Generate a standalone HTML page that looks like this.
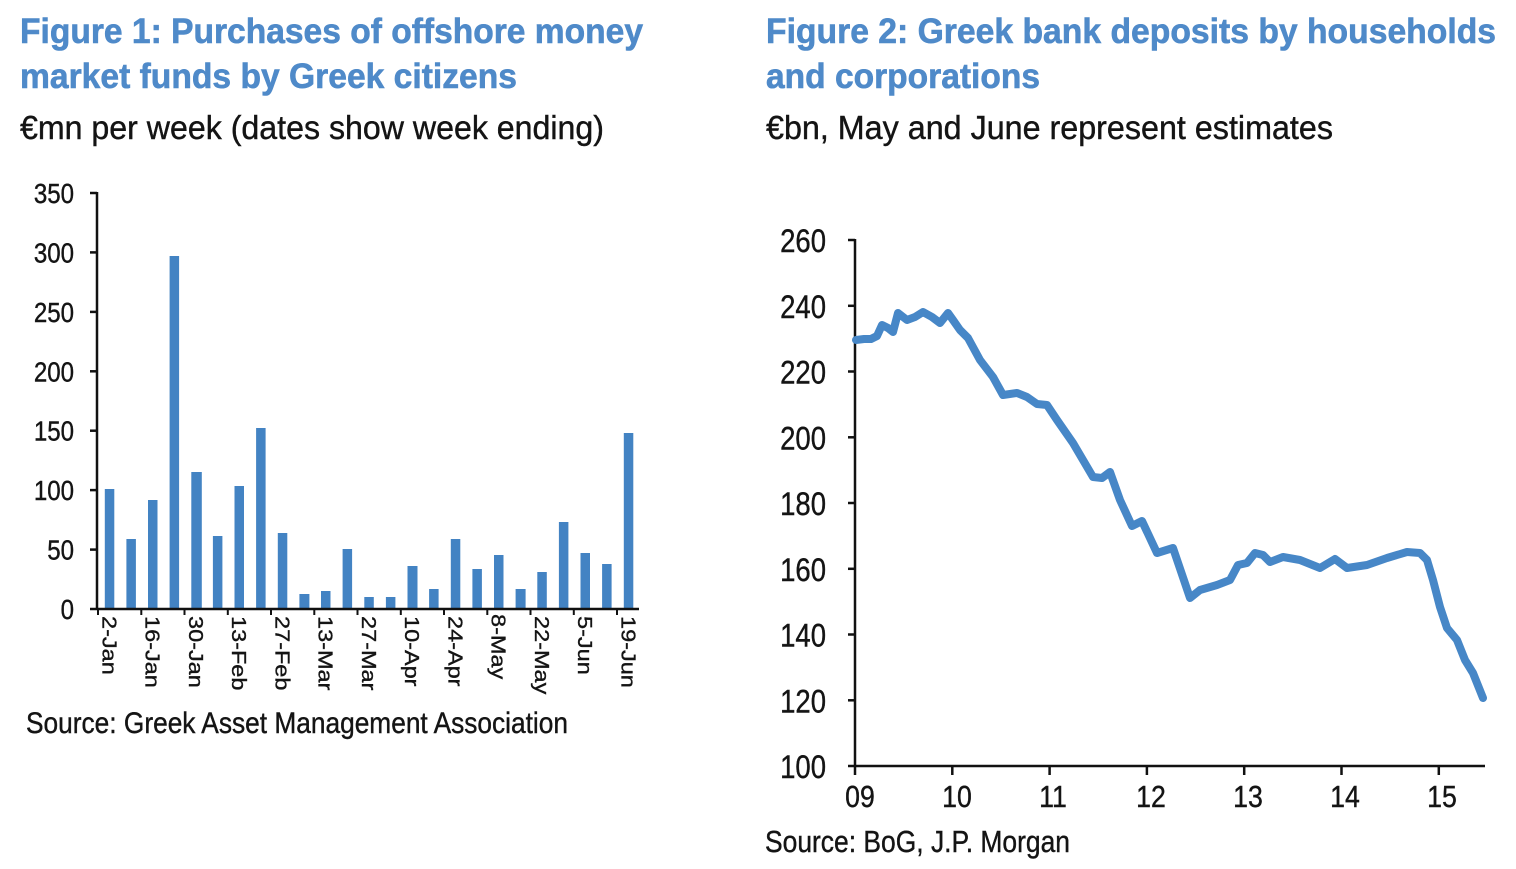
<!DOCTYPE html>
<html>
<head>
<meta charset="utf-8">
<style>
  html, body { margin: 0; padding: 0; background: #ffffff; }
  svg { display: block; }
  text { font-family: "Liberation Sans", Arial, sans-serif; }
</style>
</head>
<body>
<svg width="1516" height="869" viewBox="0 0 1516 869" xmlns="http://www.w3.org/2000/svg">
  <rect width="1516" height="869" fill="#ffffff"/>

  <!-- ===== Titles ===== -->
  <g fill="#4f8ac9" stroke="#4f8ac9" stroke-width="0.6" font-weight="bold" font-size="35">
    <text x="20" y="43" textLength="623" lengthAdjust="spacingAndGlyphs">Figure 1: Purchases of offshore money</text>
    <text x="20" y="88" textLength="497" lengthAdjust="spacingAndGlyphs">market funds by Greek citizens</text>
    <text x="766" y="43" textLength="730" lengthAdjust="spacingAndGlyphs">Figure 2: Greek bank deposits by households</text>
    <text x="766" y="88" textLength="274" lengthAdjust="spacingAndGlyphs">and corporations</text>
  </g>
  <g fill="#141414" stroke="#141414" stroke-width="0.4" font-size="33">
    <text x="20" y="139" textLength="584" lengthAdjust="spacingAndGlyphs">€mn per week (dates show week ending)</text>
    <text x="766" y="139" textLength="567" lengthAdjust="spacingAndGlyphs">€bn, May and June represent estimates</text>
  </g>

  <!-- ===== Left chart: bars ===== -->
  <g fill="#4383c3">
    <rect x="104.8" y="489" width="9.5" height="120"/>
    <rect x="126.4" y="539" width="9.5" height="70"/>
    <rect x="148.0" y="500" width="9.5" height="109"/>
    <rect x="169.6" y="256" width="9.5" height="353"/>
    <rect x="191.3" y="472" width="10.5" height="137"/>
    <rect x="212.9" y="536" width="9.5" height="73"/>
    <rect x="234.5" y="486" width="9.5" height="123"/>
    <rect x="256.1" y="428" width="9.5" height="181"/>
    <rect x="277.8" y="533" width="9.5" height="76"/>
    <rect x="299.4" y="594" width="10" height="15"/>
    <rect x="321.0" y="591" width="9.5" height="18"/>
    <rect x="342.6" y="549" width="9.5" height="60"/>
    <rect x="364.3" y="597" width="9.5" height="12"/>
    <rect x="385.9" y="597" width="9.5" height="12"/>
    <rect x="407.5" y="566" width="10" height="43"/>
    <rect x="429.1" y="589" width="9.5" height="20"/>
    <rect x="450.8" y="539" width="9.5" height="70"/>
    <rect x="472.4" y="569" width="9.5" height="40"/>
    <rect x="494.0" y="555" width="9.5" height="54"/>
    <rect x="515.6" y="589" width="10" height="20"/>
    <rect x="537.3" y="572" width="9.5" height="37"/>
    <rect x="558.9" y="522" width="9.5" height="87"/>
    <rect x="580.5" y="553" width="9.5" height="56"/>
    <rect x="602.1" y="564" width="9.5" height="45"/>
    <rect x="623.8" y="433" width="9.5" height="176"/>
  </g>

  <!-- Left axes -->
  <g stroke="#111" stroke-width="2.5" fill="none">
    <line x1="97" y1="192" x2="97" y2="610"/>
    <line x1="90" y1="609" x2="639" y2="609"/>
    <line x1="90" y1="193" x2="97" y2="193"/>
    <line x1="90" y1="252.4" x2="97" y2="252.4"/>
    <line x1="90" y1="311.9" x2="97" y2="311.9"/>
    <line x1="90" y1="371.3" x2="97" y2="371.3"/>
    <line x1="90" y1="430.7" x2="97" y2="430.7"/>
    <line x1="90" y1="490.1" x2="97" y2="490.1"/>
    <line x1="90" y1="549.6" x2="97" y2="549.6"/>
  </g>
  <g stroke="#111" stroke-width="2" fill="none">
    <line x1="98" y1="609" x2="98" y2="615"/>
    <line x1="141.3" y1="609" x2="141.3" y2="615"/>
    <line x1="184.5" y1="609" x2="184.5" y2="615"/>
    <line x1="227.8" y1="609" x2="227.8" y2="615"/>
    <line x1="271" y1="609" x2="271" y2="615"/>
    <line x1="314.3" y1="609" x2="314.3" y2="615"/>
    <line x1="357.5" y1="609" x2="357.5" y2="615"/>
    <line x1="400.8" y1="609" x2="400.8" y2="615"/>
    <line x1="444" y1="609" x2="444" y2="615"/>
    <line x1="487.3" y1="609" x2="487.3" y2="615"/>
    <line x1="530.5" y1="609" x2="530.5" y2="615"/>
    <line x1="573.8" y1="609" x2="573.8" y2="615"/>
    <line x1="617" y1="609" x2="617" y2="615"/>
  </g>

  <!-- Left y tick labels -->
  <g fill="#141414" stroke="#141414" stroke-width="0.4" font-size="28" text-anchor="end">
    <text transform="translate(74,203) scale(0.86,1)">350</text>
    <text transform="translate(74,262.4) scale(0.86,1)">300</text>
    <text transform="translate(74,321.9) scale(0.86,1)">250</text>
    <text transform="translate(74,381.3) scale(0.86,1)">200</text>
    <text transform="translate(74,440.7) scale(0.86,1)">150</text>
    <text transform="translate(74,500.1) scale(0.86,1)">100</text>
    <text transform="translate(74,559.6) scale(0.86,1)">50</text>
    <text transform="translate(74,619) scale(0.86,1)">0</text>
  </g>

  <!-- Left x labels (rotated) -->
  <g fill="#141414" stroke="#141414" stroke-width="0.4" font-size="23.5">
    <text transform="translate(102.3,616) rotate(90) scale(1,0.88)">2-Jan</text>
    <text transform="translate(145.6,616) rotate(90) scale(1,0.88)">16-Jan</text>
    <text transform="translate(188.8,616) rotate(90) scale(1,0.88)">30-Jan</text>
    <text transform="translate(232.1,616) rotate(90) scale(1,0.88)">13-Feb</text>
    <text transform="translate(275.3,616) rotate(90) scale(1,0.88)">27-Feb</text>
    <text transform="translate(318.6,616) rotate(90) scale(1,0.88)">13-Mar</text>
    <text transform="translate(361.8,616) rotate(90) scale(1,0.88)">27-Mar</text>
    <text transform="translate(405.1,616) rotate(90) scale(1,0.88)">10-Apr</text>
    <text transform="translate(448.3,616) rotate(90) scale(1,0.88)">24-Apr</text>
    <text transform="translate(491.6,614) rotate(90) scale(1,0.88)">8-May</text>
    <text transform="translate(534.8,616) rotate(90) scale(1,0.88)">22-May</text>
    <text transform="translate(578.1,616) rotate(90) scale(1,0.88)">5-Jun</text>
    <text transform="translate(621.3,616) rotate(90) scale(1,0.88)">19-Jun</text>
  </g>

  <!-- Left source -->
  <text x="26" y="733" font-size="30" fill="#141414" stroke="#141414" stroke-width="0.4" textLength="542" lengthAdjust="spacingAndGlyphs">Source: Greek Asset Management Association</text>

  <!-- ===== Right chart ===== -->
  <g stroke="#111" stroke-width="2.5" fill="none">
    <line x1="855" y1="239" x2="855" y2="767"/>
    <line x1="848" y1="766" x2="1485" y2="766"/>
    <line x1="848" y1="240" x2="855" y2="240"/>
    <line x1="848" y1="305.8" x2="855" y2="305.8"/>
    <line x1="848" y1="371.5" x2="855" y2="371.5"/>
    <line x1="848" y1="437.3" x2="855" y2="437.3"/>
    <line x1="848" y1="503" x2="855" y2="503"/>
    <line x1="848" y1="568.8" x2="855" y2="568.8"/>
    <line x1="848" y1="634.5" x2="855" y2="634.5"/>
    <line x1="848" y1="700.3" x2="855" y2="700.3"/>
    <line x1="855" y1="766" x2="855" y2="775"/>
    <line x1="952.3" y1="766" x2="952.3" y2="775"/>
    <line x1="1049.6" y1="766" x2="1049.6" y2="775"/>
    <line x1="1146.9" y1="766" x2="1146.9" y2="775"/>
    <line x1="1244.2" y1="766" x2="1244.2" y2="775"/>
    <line x1="1341.5" y1="766" x2="1341.5" y2="775"/>
    <line x1="1438.8" y1="766" x2="1438.8" y2="775"/>
  </g>

  <g fill="#141414" stroke="#141414" stroke-width="0.4" font-size="32" text-anchor="end">
    <text transform="translate(826,252) scale(0.86,1)">260</text>
    <text transform="translate(826,317.8) scale(0.86,1)">240</text>
    <text transform="translate(826,383.5) scale(0.86,1)">220</text>
    <text transform="translate(826,449.3) scale(0.86,1)">200</text>
    <text transform="translate(826,515) scale(0.86,1)">180</text>
    <text transform="translate(826,580.8) scale(0.86,1)">160</text>
    <text transform="translate(826,646.5) scale(0.86,1)">140</text>
    <text transform="translate(826,712.3) scale(0.86,1)">120</text>
    <text transform="translate(826,778) scale(0.86,1)">100</text>
  </g>

  <g fill="#141414" stroke="#141414" stroke-width="0.4" font-size="31" text-anchor="middle">
    <text transform="translate(860,807) scale(0.86,1)">09</text>
    <text transform="translate(957,807) scale(0.86,1)">10</text>
    <text transform="translate(1053,807) scale(0.86,1)">11</text>
    <text transform="translate(1151,807) scale(0.86,1)">12</text>
    <text transform="translate(1248,807) scale(0.86,1)">13</text>
    <text transform="translate(1345,807) scale(0.86,1)">14</text>
    <text transform="translate(1442,807) scale(0.86,1)">15</text>
  </g>

  <polyline fill="none" stroke="#4787c7" stroke-width="8" stroke-linejoin="round" stroke-linecap="round"
    points="856,340 864,339 871,339 877,336 882,325 888,328 893,332 898,313 907,320 915,317 923,312 932,317 940,323 948,313 953,320 960,330 968,338 980,360 993,377 1003,395 1017,393 1027,397 1037,404 1047,405 1057,420 1073,443 1083,460 1093,477 1102,478 1110,472 1120,500 1132,526 1142,521 1157,553 1173,548 1190,598 1200,590 1217,585 1230,580 1238,565 1247,563 1255,553 1263,555 1270,562 1283,557 1300,560 1320,568 1335,559 1347,568 1367,565 1387,558 1407,552 1420,553 1427,560 1433,580 1440,607 1447,628 1457,640 1465,660 1473,673 1483,698"/>

  <text x="765" y="852" font-size="31" fill="#141414" stroke="#141414" stroke-width="0.4" textLength="305" lengthAdjust="spacingAndGlyphs">Source: BoG, J.P. Morgan</text>
</svg>
</body>
</html>
